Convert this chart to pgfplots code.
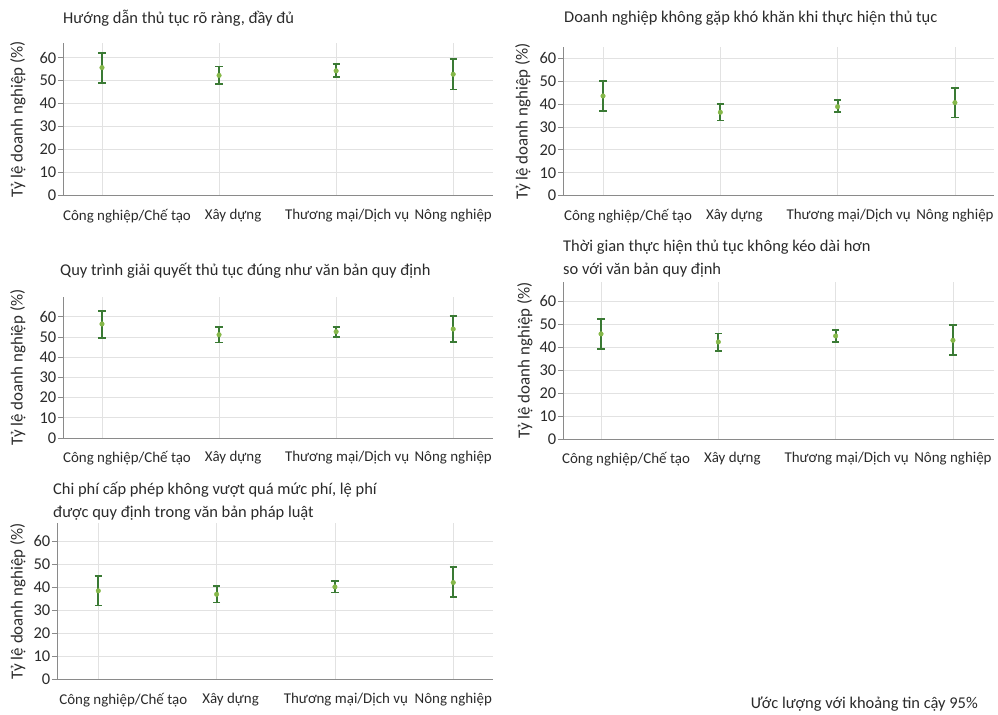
\documentclass[border=0pt]{standalone}
\usepackage{fontspec}
\setmainfont{Carlito}
\usepackage{pgfplots}
\pgfplotsset{compat=1.18}
\usepackage{pgfplotstable}
\definecolor{errgreen}{HTML}{3A7A34}
\definecolor{ptgreen}{HTML}{86B84A}
\definecolor{gridc}{HTML}{E2E2E2}
\definecolor{axc}{HTML}{8A8A8A}
\definecolor{txt}{HTML}{2A2A2A}

\pgfplotstableread{
x y lo hi
0 55.7 49.1 62.2
1 52.3 48.7 56.2
2 54.3 51.7 57.1
3 52.8 46.2 59.3
}\tA
\pgfplotstableread{
x y lo hi
0 43.5 37.0 50.0
1 36.4 32.8 40.0
2 38.8 36.4 41.6
3 40.6 34.1 47.0
}\tB
\pgfplotstableread{
x y lo hi
0 56.4 49.6 63.0
1 51.1 47.2 54.9
2 52.6 49.8 55.1
3 53.9 47.3 60.5
}\tC
\pgfplotstableread{
x y lo hi
0 45.7 39.1 52.2
1 42.2 38.4 45.9
2 44.8 42.2 47.5
3 42.9 36.4 49.4
}\tD
\pgfplotstableread{
x y lo hi
0 38.5 32.1 44.9
1 37.0 33.4 40.7
2 40.2 37.8 42.7
3 42.1 35.9 48.8
}\tE

\newcommand{\tf}{\fontsize{16.5}{16.5}\selectfont}
\pgfplotsset{
  ylabx/.style={ylabel style={at={(axis description cs:0,0.5)}, anchor=center, yshift=#1}},
  panel/.style={
    scale only axis,
    anchor=south west,
    axis x line=bottom, axis y line=left,
    axis line style={draw=axc, -, line width=0.8bp},
    ymin=0,
    ytick={0,10,...,60},
    xtick={0,1,2,3},
    xticklabels={\hspace*{50bp}Công nghiệp/Chế tạo, \hspace*{28bp}Xây dựng, \hspace*{22bp}Thương mại/Dịch vụ, Nông nghiệp},
    xmajorgrids, ymajorgrids,
    grid style={draw=gridc, line width=0.8bp},
    major x tick style={draw=none},
    major y tick style={draw=axc, line width=0.8bp},
    tick align=outside,
    major tick length=5bp,
    /pgf/number format/assume math mode=true,
    yticklabel style={font=\fontsize{16.5}{16.5}\selectfont, color=txt, inner sep=1.5bp},
    xticklabel style={font=\fontsize{15}{15}\selectfont, color=txt, yshift=-5bp},
    ylabel={Tỷ lệ doanh nghiệp (\%)},
    ylabel style={font=\fontsize{17}{17}\selectfont, color=txt},
    clip=false,
  },
  ebar/.style={only marks, mark=*, mark size=2.3bp, color=ptgreen,
    mark options={draw=ptgreen, fill=ptgreen},
    error bars/.cd, y dir=both, y explicit,
    error bar style={draw=errgreen, line width=1.8bp},
    error mark=|,
    error mark options={draw=errgreen, line width=1.8bp, mark size=3.6bp}},
}
\newcommand{\ebplot}[1]{\addplot[ebar] table[x=x, y=y,
  y error plus expr=\thisrow{hi}-\thisrow{y},
  y error minus expr=\thisrow{y}-\thisrow{lo}] {#1};}

\begin{document}
\begin{tikzpicture}
\useasboundingbox (0,0) rectangle (998bp,715bp);

% Panel 1
\begin{axis}[panel, ylabx=45bp, at={(63bp,519.3bp)}, width=430bp, height=152.7bp,
  xmin=-0.333, xmax=3.34, ymax=66.4]
\ebplot{\tA}
\end{axis}
\node[anchor=west, font=\tf, color=txt, inner sep=0pt] at (63bp,697bp) {Hướng dẫn thủ tục rõ ràng, đầy đủ};

% Panel 2
\begin{axis}[panel, ylabx=40bp, at={(563bp,519.3bp)}, width=431bp, height=149bp,
  xmin=-0.341, xmax=3.333, ymax=65]
\ebplot{\tB}
\end{axis}
\node[anchor=west, font=\tf, color=txt, inner sep=0pt] at (564bp,697bp) {Doanh nghiệp không gặp khó khăn khi thực hiện thủ tục};

% Panel 3
\begin{axis}[panel, ylabx=45bp, at={(63bp,277bp)}, width=430bp, height=141.3bp,
  xmin=-0.333, xmax=3.34, ymax=69.9]
\ebplot{\tC}
\end{axis}
\node[anchor=west, font=\tf, color=txt, inner sep=0pt] at (60bp,444.3bp) {Quy trình giải quyết thủ tục đúng như văn bản quy định};

% Panel 4
\begin{axis}[panel, ylabx=38bp, at={(563bp,276bp)}, width=431bp, height=157.3bp,
  xmin=-0.324, xmax=3.35, ymax=68.4]
\ebplot{\tD}
\end{axis}
\node[anchor=west, font=\tf, color=txt, inner sep=0pt] at (563bp,468bp) {Thời gian thực hiện thủ tục không kéo dài hơn};
\node[anchor=west, font=\tf, color=txt, inner sep=0pt] at (563bp,445bp) {so với văn bản quy định};

% Panel 5
\begin{axis}[panel, ylabx=39bp, at={(57bp,35.7bp)}, width=436bp, height=156.3bp,
  xmin=-0.349, xmax=3.336, ymax=68]
\ebplot{\tE}
\end{axis}
\node[anchor=west, font=\tf, color=txt, inner sep=0pt] at (53bp,225bp) {Chi phí cấp phép không vượt quá mức phí, lệ phí};
\node[anchor=west, font=\tf, color=txt, inner sep=0pt] at (53bp,202bp) {được quy định trong văn bản pháp luật};

\node[anchor=east, font=\tf, color=txt, inner sep=0pt] at (978bp,11bp) {Ước lượng với khoảng tin cậy 95\%};
\end{tikzpicture}
\end{document}
